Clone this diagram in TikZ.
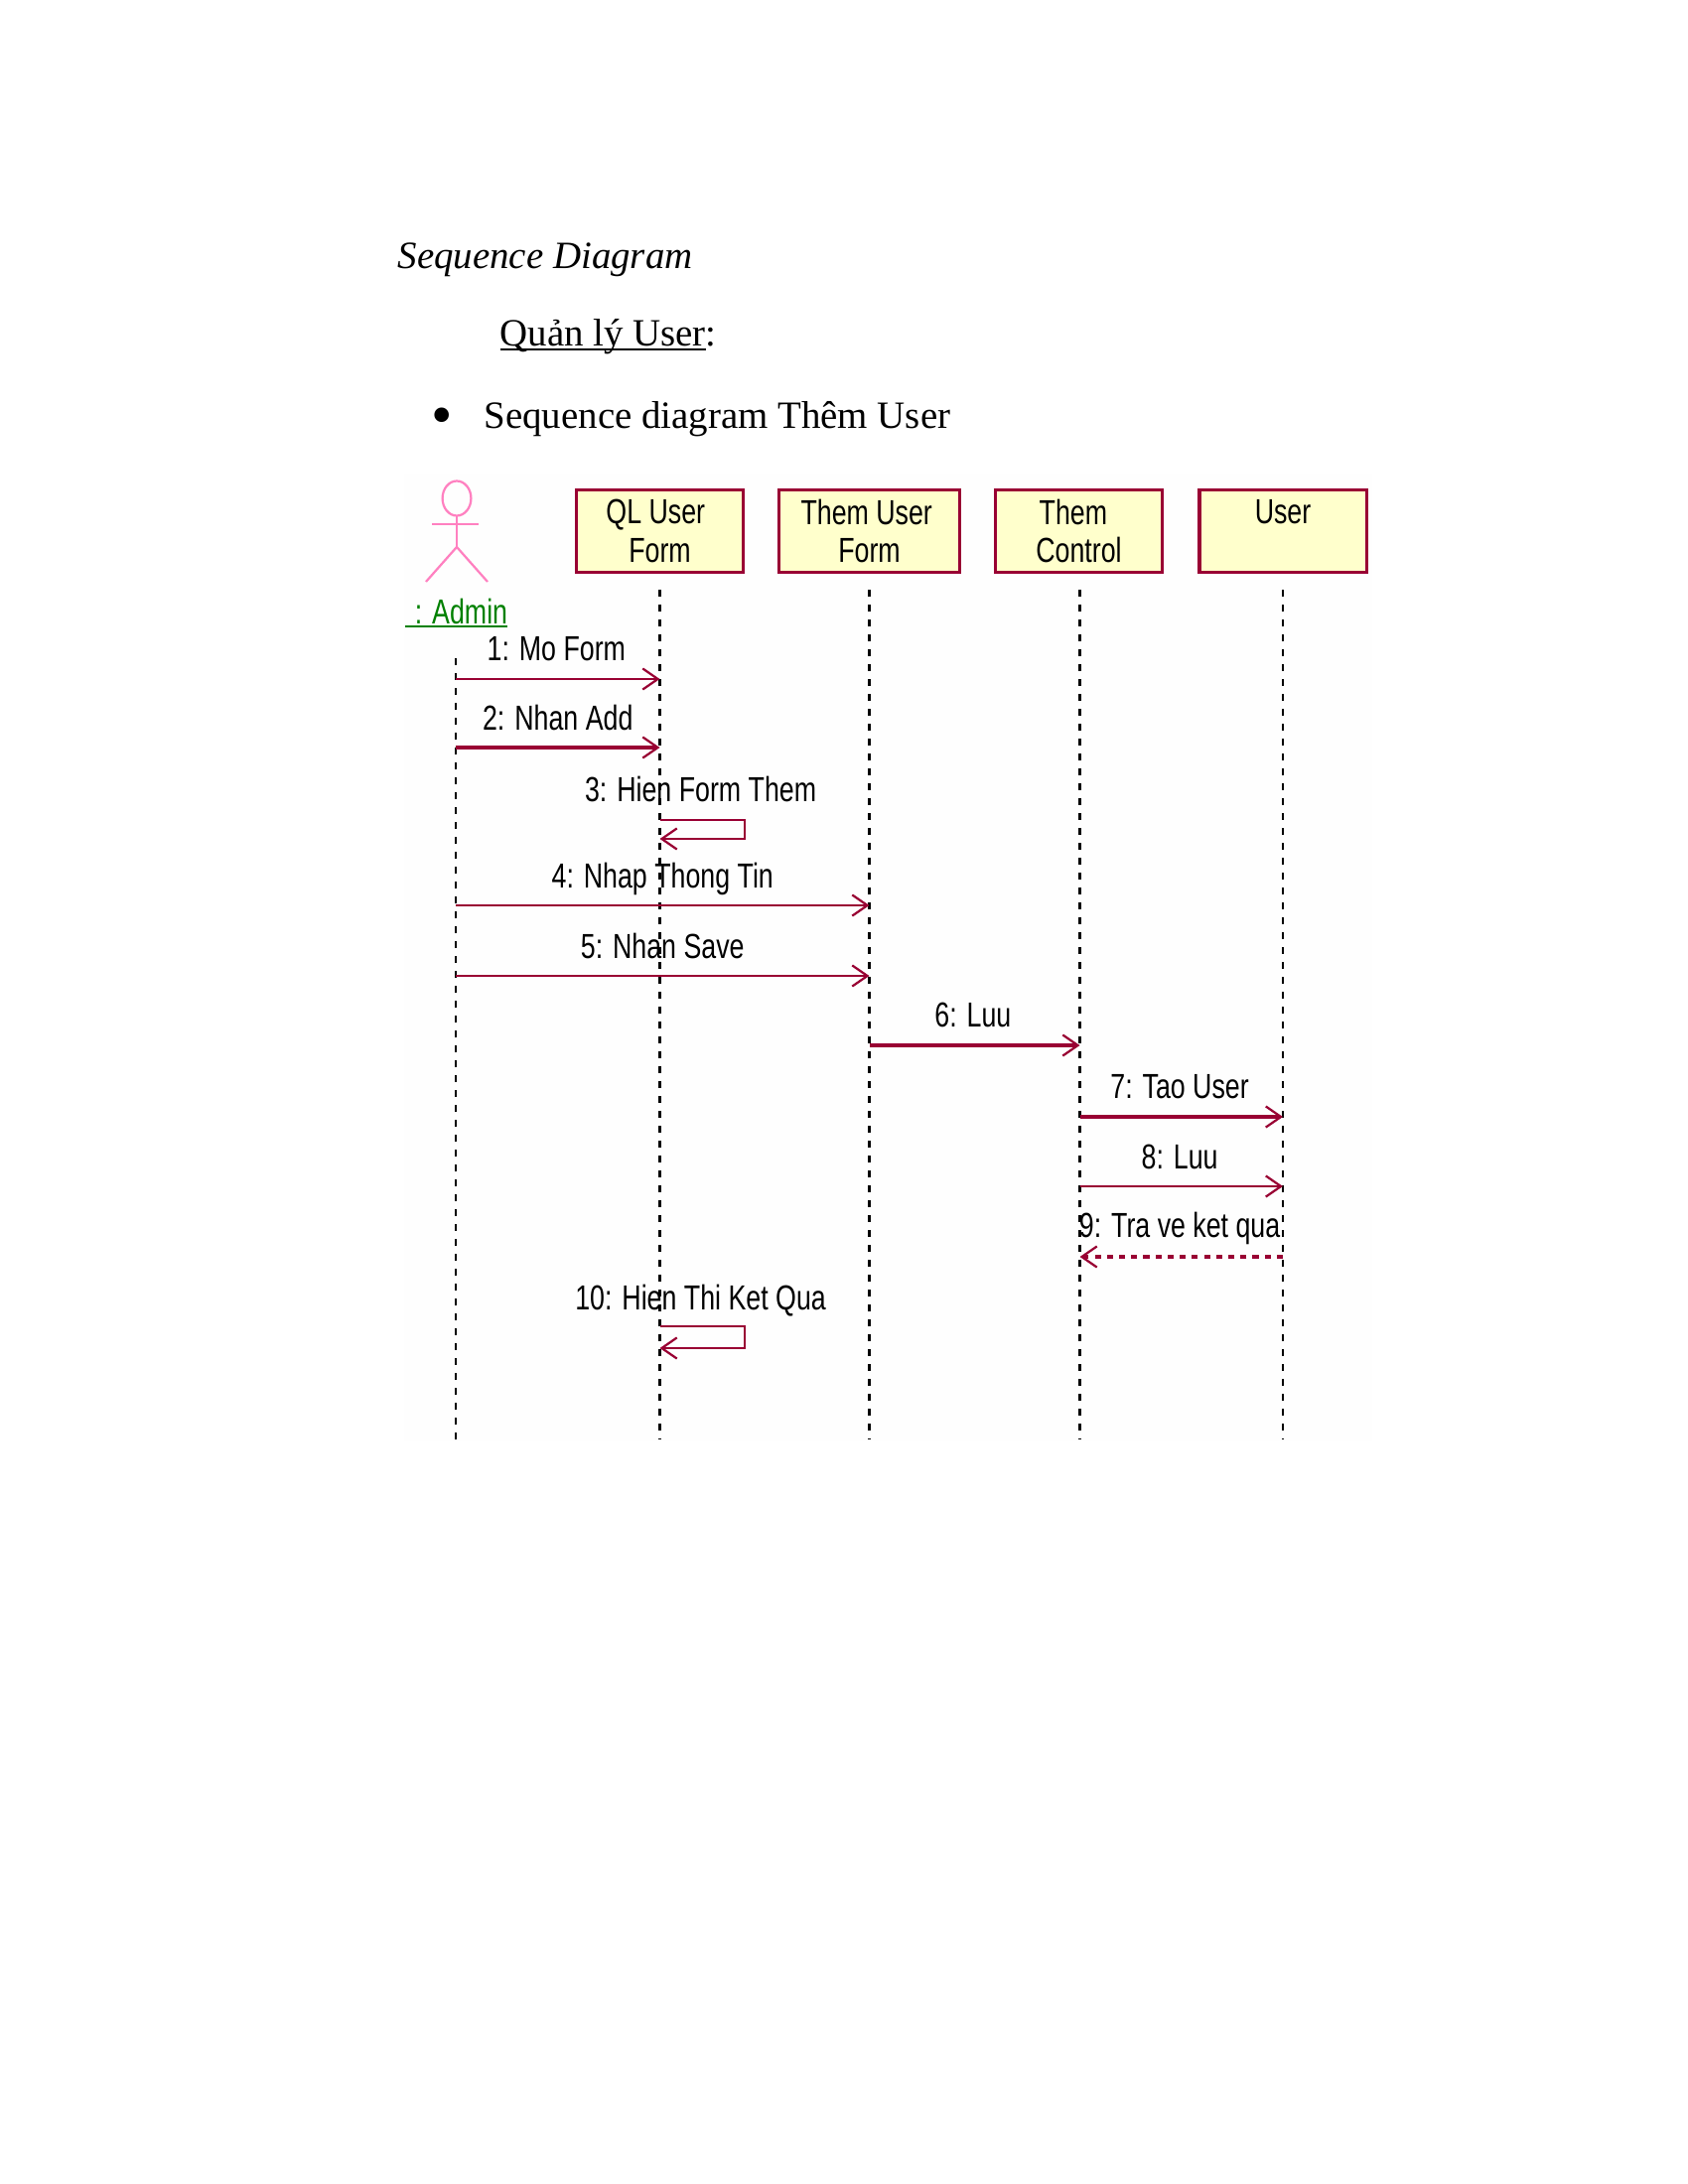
\documentclass[tikz,border=0pt]{standalone}
\usepackage{fontspec}
\setmainfont{Liberation Serif}
\newfontfamily\umlfont[FakeStretch=0.765]{Liberation Sans}
\usetikzlibrary{arrows.meta,positioning}
\definecolor{umlred}{HTML}{990033}
\definecolor{umlpink}{HTML}{FF80C0}
\definecolor{umlgreen}{HTML}{008000}
\definecolor{umlyellow}{HTML}{FFFFCC}
\definecolor{picgray}{HTML}{FEFEFE}
\newcommand{\ulbar}[1]{\setbox0\hbox{#1}\rlap{\rule[-1.4pt]{\wd0}{0.8pt}}\box0}

\begin{document}
\begin{tikzpicture}[
    x=0.36pt,
    y=-0.36pt,
    heading/.style={anchor=base west, inner sep=0pt, font=\fontsize{14}{16}\selectfont},
    objbox/.style={rectangle, draw=umlred, line width=1.1pt, fill=umlyellow, minimum width=60.5pt, minimum height=29.9pt, inner sep=0pt, align=center, font=\umlfont\fontsize{12.6}{14}\selectfont},
    actor/.style={draw=umlpink, line width=0.8pt},
    life/.style={draw=black, line width=0.8pt, dash pattern=on 2.5pt off 2.9pt},
    msg/.style={-{Straight Barb[length=5.5pt,width=7.6pt,line width=0.8pt]}, draw=umlred, line width=1pt},
    msgthick/.style={msg, line width=1.4pt},
    back/.style={msg, line width=1.3pt, dash pattern=on 2.2pt off 2.2pt},
    lab/.style={inner sep=0pt, text depth=0pt, font=\umlfont\fontsize{12.6}{14}\selectfont}
  ]
    \useasboundingbox (0,0) rectangle (1700,2200);
    \fill[picgray] (407,477) rectangle (1382,1452);

    \node[heading] (title) at (400,271) {\itshape Sequence Diagram};
    \node[heading] (section) at (503,349) {\ulbar{Quản lý User}:};
    \node[heading, anchor=base, font=\fontsize{22}{24}\selectfont] (bullet) at (445,438) {•};
    \node[heading] (item) at (487,431) {Sequence diagram Thêm User};

    % actor
    \draw[actor] (460,502) ellipse [x radius=14.4, y radius=17.5];
    \coordinate (neck) at (460,519.5);
    \coordinate (hip) at (460,551);
    \coordinate (armL) at (435,528);
    \coordinate (armR) at (481.5,528);
    \coordinate (footL) at (429,586);
    \coordinate (footR) at (491,586);
    \draw[actor] (neck) -- (hip);
    \draw[actor] (armL) -- (armR);
    \draw[actor] (footL) -- (hip) -- (footR);
    \node[lab, text=umlgreen, anchor=base] (admin) at (459.5,628) {\ulbar{\hspace{3.6pt}: Admin}};

    \node[objbox] (qlform) at (664.5,535) {QL User\kern3pt\\Form};
    \node[objbox, minimum width=65.2pt] (themform) at (875.5,535) {Them User\kern2pt\\Form};
    \node[objbox] (themctrl) at (1086.5,535) {Them\kern4pt\\Control};
    \node[objbox] (user) at (1292,535) {User\\\mbox{}};

    % lifelines
    \coordinate (adminA) at (459,663);
    \coordinate (adminB) at (459,1452);
    \coordinate (qlA) at (664.5,594);
    \coordinate (qlB) at (664.5,1450);
    \coordinate (formA) at (875.5,594);
    \coordinate (formB) at (875.5,1450);
    \coordinate (ctrlA) at (1087.5,594);
    \coordinate (ctrlB) at (1087.5,1450);
    \coordinate (userA) at (1292,594);
    \coordinate (userB) at (1292,1450);
    \draw[life] (adminA) -- (adminB);
    \draw[life] (qlA) -- (qlB);
    \draw[life] (formA) -- (formB);
    \draw[life, line width=1.2pt] (ctrlA) -- (ctrlB);
    \draw[life] (userA) -- (userB);

    % messages
    \coordinate (m1) at (0,684);
    \coordinate (m2) at (0,753);
    \coordinate (m3a) at (0,826);
    \coordinate (m3b) at (0,845);
    \coordinate (m4) at (0,912);
    \coordinate (m5) at (0,983);
    \coordinate (m6) at (0,1053);
    \coordinate (m7) at (0,1125);
    \coordinate (m8) at (0,1195);
    \coordinate (m9) at (0,1266);
    \coordinate (m10a) at (0,1336);
    \coordinate (m10b) at (0,1358);
    \coordinate (loopx) at (750,0);

    \draw[msg] (adminA |- m1) -- node[lab, above=6.3pt, xshift=-0.5pt] {1: Mo Form} (qlA |- m1);
    \draw[msgthick] (adminA |- m2) -- node[lab, above=5.5pt] {2: Nhan Add} (qlA |- m2);
    \draw[msg] (qlA |- m3a) -- node[lab, above=6.2pt, xshift=-0.6pt] {3: Hien Form Them} (loopx |- m3a) -- (loopx |- m3b) -- (qlA |- m3b);
    \draw[msg] (adminA |- m4) -- node[lab, above=5.8pt] {4: Nhap Thong Tin} (formA |- m4);
    \draw[msg] (adminA |- m5) -- node[lab, above=5.8pt] {5: Nhan Save} (formA |- m5);
    \draw[msgthick] (formA |- m6) -- node[lab, above=5.8pt, xshift=-0.6pt] {6: Luu} (ctrlA |- m6);
    \draw[msgthick] (ctrlA |- m7) -- node[lab, above=5.8pt, xshift=-0.6pt] {7: Tao User} (userA |- m7);
    \draw[msg] (ctrlA |- m8) -- node[lab, above=5.8pt, xshift=-0.6pt] {8: Luu} (userA |- m8);
    \draw[back] (userA |- m9) -- node[lab, above=6.3pt, xshift=-0.6pt] {9: Tra ve ket qua} (ctrlA |- m9);
    \draw[msg] (qlA |- m10a) -- node[lab, above=5.4pt, xshift=-0.6pt] {10: Hien Thi Ket Qua} (loopx |- m10a) -- (loopx |- m10b) -- (qlA |- m10b);
  \end{tikzpicture}
\end{document}
